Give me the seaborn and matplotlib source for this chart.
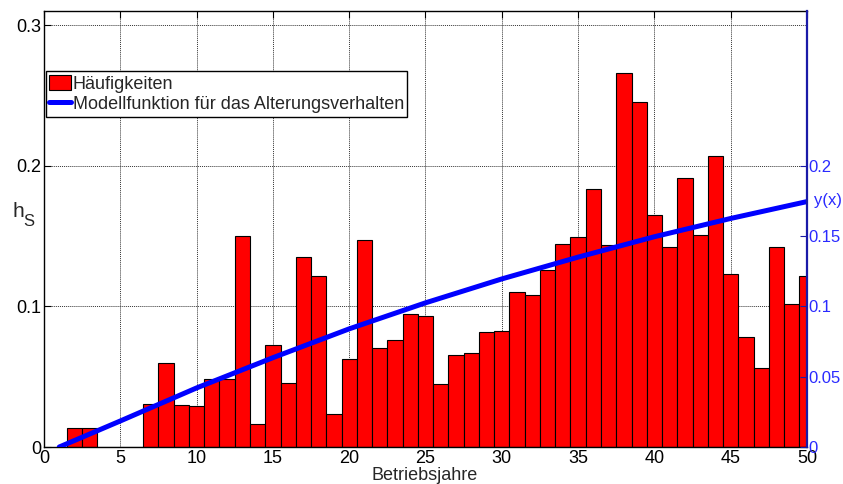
import numpy as np
import pandas as pd
import matplotlib
matplotlib.use("Agg")
import matplotlib.pyplot as plt
from matplotlib.patches import Patch
from matplotlib.lines import Line2D
import seaborn as sns

# Relative frequencies per operating year
years = list(range(2, 51))
freq = [0.0138, 0.0138, 0.0, 0.0, 0.0, 0.0308, 0.0598, 0.0299, 0.0292, 0.0482,
        0.0482, 0.1497, 0.0161, 0.0724, 0.0458, 0.1350, 0.1215, 0.0237, 0.0624, 0.1473,
        0.0707, 0.0762, 0.0949, 0.0930, 0.0451, 0.0657, 0.0669, 0.0821, 0.0828, 0.1103,
        0.1082, 0.1257, 0.1442, 0.1495, 0.1834, 0.1433, 0.2657, 0.2451, 0.1646, 0.1423,
        0.1910, 0.1504, 0.2066, 0.1229, 0.0785, 0.0565, 0.1423, 0.1018, 0.1215]

# Ageing model y(x)
model_x = [1, 5, 10, 15, 20, 25, 30, 35, 40, 45, 50]
model_y = [0.0, 0.0185, 0.042, 0.0635, 0.084, 0.1025, 0.1195, 0.135, 0.1495, 0.1625, 0.1745]

x_ticks = [0, 5, 10, 15, 20, 25, 30, 35, 40, 45, 50]
left_ticks = [0, 0.1, 0.2, 0.3]
left_labels = ["0", "0.1", "0.2", "0.3"]
right_ticks = [0, 0.05, 0.1, 0.15, 0.2]
right_labels = ["0", "0.05", "0.1", "0.15", "0.2"]

sns.set_style("white")
plt.rcParams["font.family"] = ["Liberation Sans", "DejaVu Sans"]
plt.rcParams["font.size"] = 13

hist_df = pd.DataFrame({"Jahr": years, "h": freq})
model_df = pd.DataFrame({"x": model_x, "y": model_y})

fig = plt.figure(figsize=(8.43, 4.84), dpi=100)
ax = fig.add_axes([44 / 843, 1 - 447 / 484, 763 / 843, 436 / 484])

sns.histplot(data=hist_df, x="Jahr", weights="h", discrete=True,
             color="red", edgecolor="black", linewidth=0.8, alpha=1.0, ax=ax)

ymax = 0.31
ax.set_xlim(0, 50)
ax.set_ylim(0, ymax)
ax.set_xticks(x_ticks)
ax.set_xticklabels([str(t) for t in x_ticks])
ax.set_yticks(left_ticks)
ax.set_yticklabels(left_labels)
ax.set_xlabel("")
ax.set_ylabel("")
ax.set_axisbelow(True)
ax.grid(True, linestyle=(0, (1, 1)), color="#333333", linewidth=0.7)
ax.tick_params(axis="both", direction="in", length=5, width=0.8, colors="black",
               labelsize=13, top=True, right=False)
ax.tick_params(axis="y", pad=2)
ax.tick_params(axis="x", pad=2)
for side in ["left", "bottom", "top"]:
    ax.spines[side].set_color("black")
    ax.spines[side].set_linewidth(1.0)
ax.spines["right"].set_visible(False)

ax2 = ax.twinx()
sns.lineplot(data=model_df, x="x", y="y", color="#0000ff", linewidth=3.6, ax=ax2)
ax2.set_ylim(0, ymax)
ax2.set_xlim(0, 50)
ax2.set_yticks(right_ticks)
ax2.set_yticklabels(right_labels)
ax2.set_ylabel("")
ax2.set_xlabel("")
ax2.tick_params(axis="y", direction="in", length=5, width=0.8, color="#1a1aa8",
                labelcolor="#2a2aff", labelsize=12, pad=1)
for side in ["left", "bottom", "top"]:
    ax2.spines[side].set_visible(False)
ax2.spines["right"].set_color("#1a1aa8")
ax2.spines["right"].set_linewidth(1.6)

handles = [Patch(facecolor="red", edgecolor="black", linewidth=0.8),
           Line2D([], [], color="#0000ff", linewidth=3.6)]
leg = ax2.legend(handles, ["Häufigkeiten", "Modellfunktion für das Alterungsverhalten"],
                 loc="upper left", bbox_to_anchor=(0.002, 0.862), fontsize=13,
                 frameon=True, fancybox=False, framealpha=1, edgecolor="black",
                 borderpad=0.2, handlelength=1.2, handleheight=0.9, handletextpad=0.1,
                 labelspacing=0.15, borderaxespad=0)
leg.get_frame().set_linewidth(1.0)

fig.text(13 / 843, 1 - 217 / 484, "h", fontsize=15, ha="left", va="baseline")
fig.text(23 / 843, 1 - 226 / 484, "S", fontsize=12, ha="left", va="baseline")
fig.text(814 / 843, 1 - 201 / 484, "y(x)", fontsize=12, color="#2a2aff",
         ha="left", va="center")
fig.text(425 / 843, 1 - 467 / 484, "Betriebsjahre", fontsize=13,
         ha="center", va="top")

fig.savefig("out.png", dpi=100)
